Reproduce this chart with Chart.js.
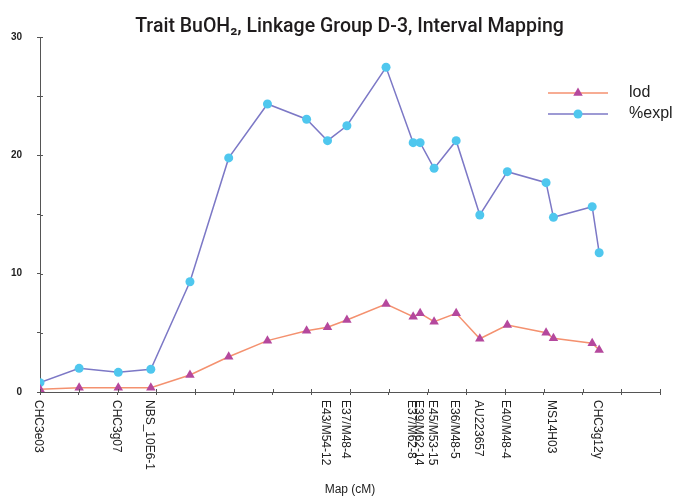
<!DOCTYPE html>
<html>
<head>
<meta charset="utf-8">
<script src="https://cdn.jsdelivr.net/npm/chart.js@4/dist/chart.umd.min.js"></script>
<style>
  html, body { margin: 0; padding: 0; background: #ffffff; }
  #wrap { width: 673px; height: 499px; }
</style>
</head>
<body>
<div id="wrap"><canvas id="c" width="673" height="499"></canvas></div>
<script>
// ---- data ----
const positionsCM = [0, 10.1, 20.2, 28.6, 38.7, 48.7, 58.7, 68.8, 74.2, 79.2, 89.3, 96.3, 98.1, 101.7, 107.4, 113.5, 120.6, 130.6, 132.5, 142.5, 144.3];
const lodValues   = [0.23, 0.36, 0.36, 0.36, 1.44, 2.98, 4.34, 5.18, 5.47, 6.08, 7.44, 6.36, 6.65, 5.94, 6.65, 4.50, 5.66, 5.01, 4.54, 4.12, 3.55];
const explValues  = [0.79, 2.00, 1.66, 1.92, 9.32, 19.78, 24.34, 23.05, 21.24, 22.50, 27.44, 21.07, 21.07, 18.90, 21.24, 14.96, 18.62, 17.69, 14.76, 15.66, 11.77];
const markerNames = ['CHC3e03', 'CHC3g07', 'NBS_10E6-1', 'E43/M54-12', 'E37/M48-4', 'E37/M62-8', 'E39/M62-14', 'E45/M53-15', 'E36/M48-5', 'AU223657', 'E40/M48-4', 'MS14H03', 'CHC3g12y'];
const markerPositions = [0, 20.2, 28.6, 74.2, 79.2, 96.3, 98.1, 101.7, 107.4, 113.5, 120.6, 132.5, 144.3];
const seriesNames = ['lod', '%expl'];
const yTickValues = [0, 10, 20, 30];

const COL = {
  lodLine: '#F4916F', lodPoint: '#B5489D',
  explLine: '#7C78C6', explPoint: '#4FC7EE',
  axis: '#555555', text: '#222222'
};

function drawMarker(ctx, style, x, y, r, color) {
  ctx.save();
  ctx.fillStyle = color;
  ctx.beginPath();
  if (style === 'triangle') {
    let rad = 0;
    const T = 2 * Math.PI / 3;
    ctx.moveTo(x + Math.sin(rad) * r, y - Math.cos(rad) * r); rad += T;
    ctx.lineTo(x + Math.sin(rad) * r, y - Math.cos(rad) * r); rad += T;
    ctx.lineTo(x + Math.sin(rad) * r, y - Math.cos(rad) * r);
    ctx.closePath();
  } else {
    ctx.arc(x, y, r, 0, Math.PI * 2);
  }
  ctx.fill();
  ctx.restore();
}

// inner halves of tick marks, marker-name labels and legend
const extras = {
  id: 'extras',
  afterLayout(chart) {
    // centre the chart title over the plot rather than the canvas
    const t = chart.titleBlock;
    if (t) { t.left += 26; t.right += 13; }
  },
  afterDraw(chart) {
    const ctx = chart.ctx;
    const xs = chart.scales.x, ys = chart.scales.y;
    const area = chart.chartArea;
    ctx.save();
    ctx.strokeStyle = COL.axis;
    ctx.lineWidth = 1;
    ctx.beginPath();
    ys.ticks.forEach(t => {
      const py = Math.round(ys.getPixelForValue(t.value)) + 0.5;
      ctx.moveTo(area.left, py); ctx.lineTo(area.left + 3, py);
    });
    xs.ticks.forEach(t => {
      const px = Math.round(xs.getPixelForValue(t.value)) + 0.5;
      ctx.moveTo(px, area.bottom); ctx.lineTo(px, area.bottom - 3);
    });
    ctx.stroke();

    // marker names, rotated, reading top to bottom
    ctx.fillStyle = COL.text;
    ctx.font = '12px "Liberation Sans", Arial, sans-serif';
    ctx.textAlign = 'left';
    ctx.textBaseline = 'middle';
    markerNames.forEach((name, i) => {
      const px = xs.getPixelForValue(markerPositions[i]) - 2;
      ctx.save();
      ctx.translate(px, area.bottom + 8);
      ctx.rotate(Math.PI / 2);
      ctx.fillText(name, 0, 0);
      ctx.restore();
    });

    // legend
    const ds = chart.data.datasets;
    const lx0 = area.right - 112, lx1 = area.right - 52, tx = area.right - 31;
    const rows = [area.top + 56, area.top + 77];
    ds.forEach((d, i) => {
      const y = rows[i];
      ctx.strokeStyle = d.borderColor;
      ctx.lineWidth = 1.5;
      ctx.beginPath(); ctx.moveTo(lx0, y); ctx.lineTo(lx1, y); ctx.stroke();
      drawMarker(ctx, d.pointStyle, (lx0 + lx1) / 2, y, d.pointRadius, d.pointBackgroundColor);
      ctx.fillStyle = COL.text;
      ctx.font = '16px "Liberation Sans", Arial, sans-serif';
      ctx.textAlign = 'left';
      ctx.textBaseline = 'middle';
      ctx.fillText(d.label, tx, y);
    });
    ctx.restore();
  }
};

const lodData = positionsCM.map((x, i) => ({ x: x, y: lodValues[i] }));
const explData = positionsCM.map((x, i) => ({ x: x, y: explValues[i] }));

new Chart(document.getElementById('c'), {
  type: 'line',
  data: {
    datasets: [
      {
        label: seriesNames[0], data: lodData,
        borderColor: COL.lodLine, borderWidth: 1.5,
        pointStyle: 'triangle', pointRadius: 5.5,
        pointBackgroundColor: COL.lodPoint, pointBorderColor: COL.lodPoint, pointBorderWidth: 0,
        tension: 0, order: 1
      },
      {
        label: seriesNames[1], data: explData,
        borderColor: COL.explLine, borderWidth: 1.5,
        pointStyle: 'circle', pointRadius: 4.5,
        pointBackgroundColor: COL.explPoint, pointBorderColor: COL.explPoint, pointBorderWidth: 0,
        tension: 0, order: 2
      }
    ]
  },
  options: {
    responsive: false,
    animation: false,
    layout: { padding: { left: 0, right: 13, top: 0, bottom: 0 } },
    plugins: {
      legend: { display: false },
      tooltip: { enabled: false },
      title: {
        display: true,
        text: 'Trait BuOH\u2082, Linkage Group D-3, Interval Mapping',
        color: '#1f1c1d',
        font: { family: 'Roboto, "Liberation Sans", sans-serif', size: 19.5, weight: '500', lineHeight: 1 },
        padding: { top: 17.5, bottom: 0 }
      }
    },
    scales: {
      x: {
        type: 'linear', min: 0, max: 160,
        ticks: { stepSize: 10, display: false },
        grid: { drawOnChartArea: false, tickLength: 3, color: COL.axis },
        border: { color: COL.axis, width: 1 },
        title: {
          display: true, text: 'Map (cM)', color: COL.text,
          font: { family: '"Liberation Sans", Arial, sans-serif', size: 12 },
          padding: { top: 0, bottom: 2 }
        },
        afterFit(scale) { scale.height = 107; }
      },
      y: {
        type: 'linear', min: 0, max: 30,
        ticks: {
          stepSize: 5, padding: 15, color: COL.text,
          font: { family: '"Liberation Sans", Arial, sans-serif', size: 10, weight: 'bold' },
          callback: v => (yTickValues.includes(v) ? String(v) : '')
        },
        grid: { drawOnChartArea: false, tickLength: 3, color: COL.axis },
        border: { color: COL.axis, width: 1 },
        afterFit(scale) { scale.width = 40; }
      }
    }
  },
  plugins: [extras]
});
</script>
</body>
</html>
